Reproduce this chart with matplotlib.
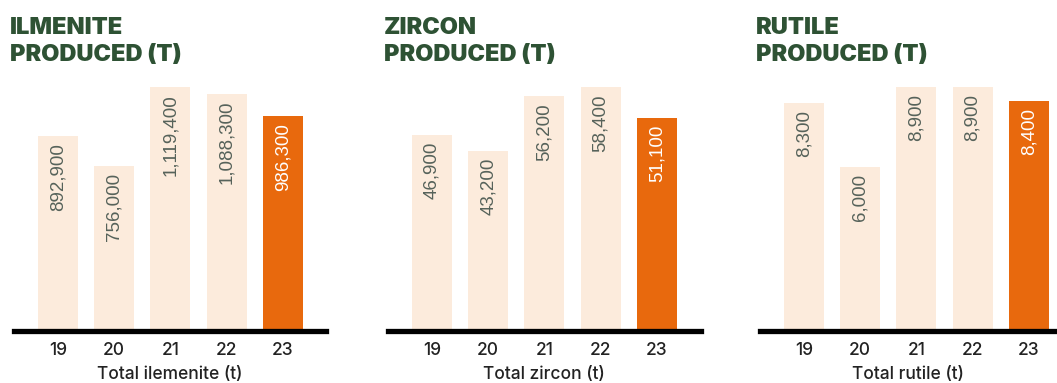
import matplotlib.pyplot as plt

# Mineral sands output by financial year
years = ['19', '20', '21', '22', '23']
ilmenite = [892900, 756000, 1119400, 1088300, 986300]
zircon = [46900, 43200, 56200, 58400, 51100]
rutile = [8300, 6000, 8900, 8900, 8400]

titles = ['ILMENITE\nPRODUCED (T)', 'ZIRCON\nPRODUCED (T)', 'RUTILE\nPRODUCED (T)']
xlabels = ['Total ilemenite (t)', 'Total zircon (t)', 'Total rutile (t)']

LIGHT = '#fcebdc'
ORANGE = '#e8690d'
GREEN = '#2e5234'
LABEL_GREY = '#56625a'

W, H = 1057, 383
fig = plt.figure(figsize=(W / 100, H / 100), dpi=100)

# panel geometry in pixels: left edge of baseline, right x-limit
panels = [
    (14, 4.76),
    (388, 4.78),
    (760, 4.50),
]
title_x = [10, 384, 756]
step = 56.25      # pixels per bar slot
base = 331        # baseline y (from top)
top_px = 244      # height of tallest bar in pixels
ax_h = 260

for i, series in enumerate([ilmenite, zircon, rutile]):
    left, xr = panels[i]
    xl = -0.78
    width_px = (xr - xl) * step
    ax = fig.add_axes([left / W, (H - base) / H, width_px / W, ax_h / H])
    ax.set_xlim(xl, xr)
    ymax = max(series) * ax_h / top_px
    ax.set_ylim(0, ymax)

    colors = [LIGHT] * 4 + [ORANGE]
    x = list(range(len(years)))
    ax.bar(x, series, width=40 / step, color=colors)

    pad = 7 / ax_h * ymax
    for xi, v, c in zip(x, series, colors):
        ax.text(xi, v - pad, f'{v:,}', rotation=90, ha='center', va='top',
                fontsize=13.5, family='Liberation Sans',
                color='white' if c == ORANGE else LABEL_GREY)

    for s in ['top', 'left', 'right']:
        ax.spines[s].set_visible(False)
    ax.spines['bottom'].set_linewidth(3.8)
    ax.spines['bottom'].set_color('black')
    ax.set_yticks([])
    ax.set_xticks(x)
    ax.set_xticklabels(years, fontsize=12.5, family='Inter', fontweight='medium', color='#222222')
    ax.tick_params(axis='x', length=0, pad=8)
    ax.set_xlabel(xlabels[i], fontsize=12.5, family='Inter', fontweight='medium',
                  color='#222222', labelpad=5)
    ax.patch.set_alpha(0)

    fig.text(title_x[i] / W, 1 - 17 / H, titles[i], ha='left', va='top',
             fontsize=17, family='Inter', fontweight='black', color=GREEN,
             linespacing=1.3)

fig.savefig('out.png', dpi=100)
